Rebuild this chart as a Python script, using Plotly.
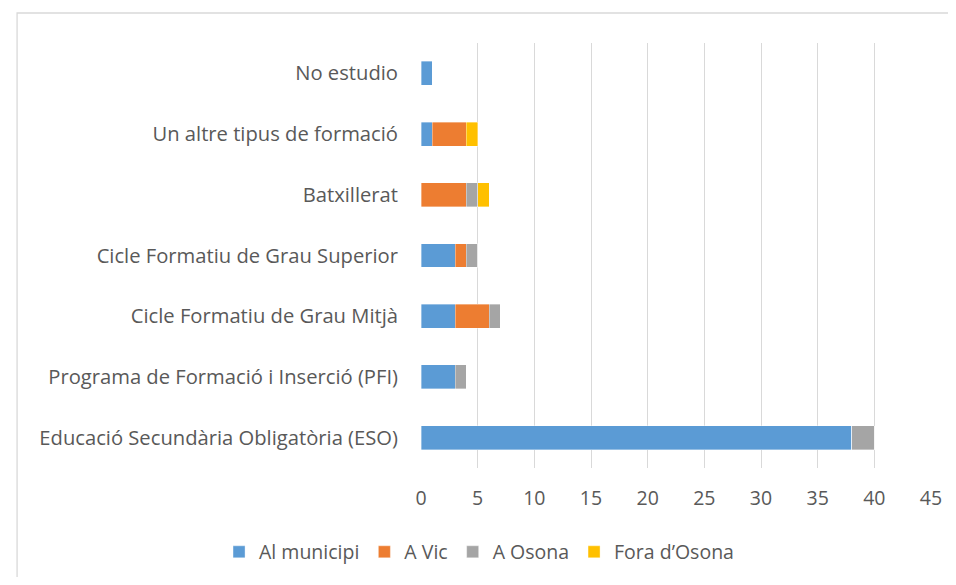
import plotly.graph_objects as go

categories = [
    "Educació Secundària Obligatòria (ESO)",
    "Programa de Formació i Inserció (PFI)",
    "Cicle Formatiu de Grau Mitjà",
    "Cicle Formatiu de Grau Superior",
    "Batxillerat",
    "Un altre tipus de formació",
    "No estudio",
]
al_municipi = [38, 3, 3, 3, 0, 1, 1]
a_vic = [0, 0, 3, 1, 4, 3, 0]
a_osona = [2, 1, 1, 1, 1, 0, 0]
fora_osona = [0, 0, 0, 0, 1, 1, 0]

series = [
    ("Al municipi", al_municipi, "#5B9BD5"),
    ("A Vic", a_vic, "#ED7D31"),
    ("A Osona", a_osona, "#A5A5A5"),
    ("Fora d’Osona", fora_osona, "#FFC000"),
]

FONT = "'Open Sans', Lato, sans-serif"
fig = go.Figure()
for name, vals, color in series:
    fig.add_trace(go.Bar(
        y=categories, x=vals, name=name, orientation="h",
        marker=dict(color=color, line=dict(color="rgba(255,255,255,0.6)", width=0.6)),
    ))

fig.update_layout(
    barmode="stack",
    bargap=0.605,
    width=940, height=569,
    margin=dict(l=413, r=17, t=35, b=109, autoexpand=False),
    paper_bgcolor="white",
    plot_bgcolor="white",
    font=dict(family=FONT, size=18, color="#595959"),
    xaxis=dict(
        range=[0, 45], dtick=5, showgrid=True, gridcolor="#D9D9D9", gridwidth=1.3,
        zeroline=False, showline=False, ticks="", ticklabelstandoff=16,
        tickfont=dict(size=19.5, color="#595959"),
    ),
    yaxis=dict(
        showgrid=False, zeroline=False, showline=False, ticks="",
        ticklabelstandoff=22, tickfont=dict(size=20.2, color="#595959"),
    ),
    legend=dict(
        orientation="h", x=-0.396, xanchor="left",
        y=-0.198, yanchor="middle",
        font=dict(size=19.5, color="#595959"), traceorder="normal",
        itemwidth=30,
    ),
    shapes=[dict(
        type="rect", xref="paper", yref="paper",
        x0=-0.792, x1=1.2, y0=-0.5, y1=1.0706,
        line=dict(color="#D9D9D9", width=1.3), fillcolor="rgba(0,0,0,0)", layer="below",
    )],
)

fig.write_html("out.html")
